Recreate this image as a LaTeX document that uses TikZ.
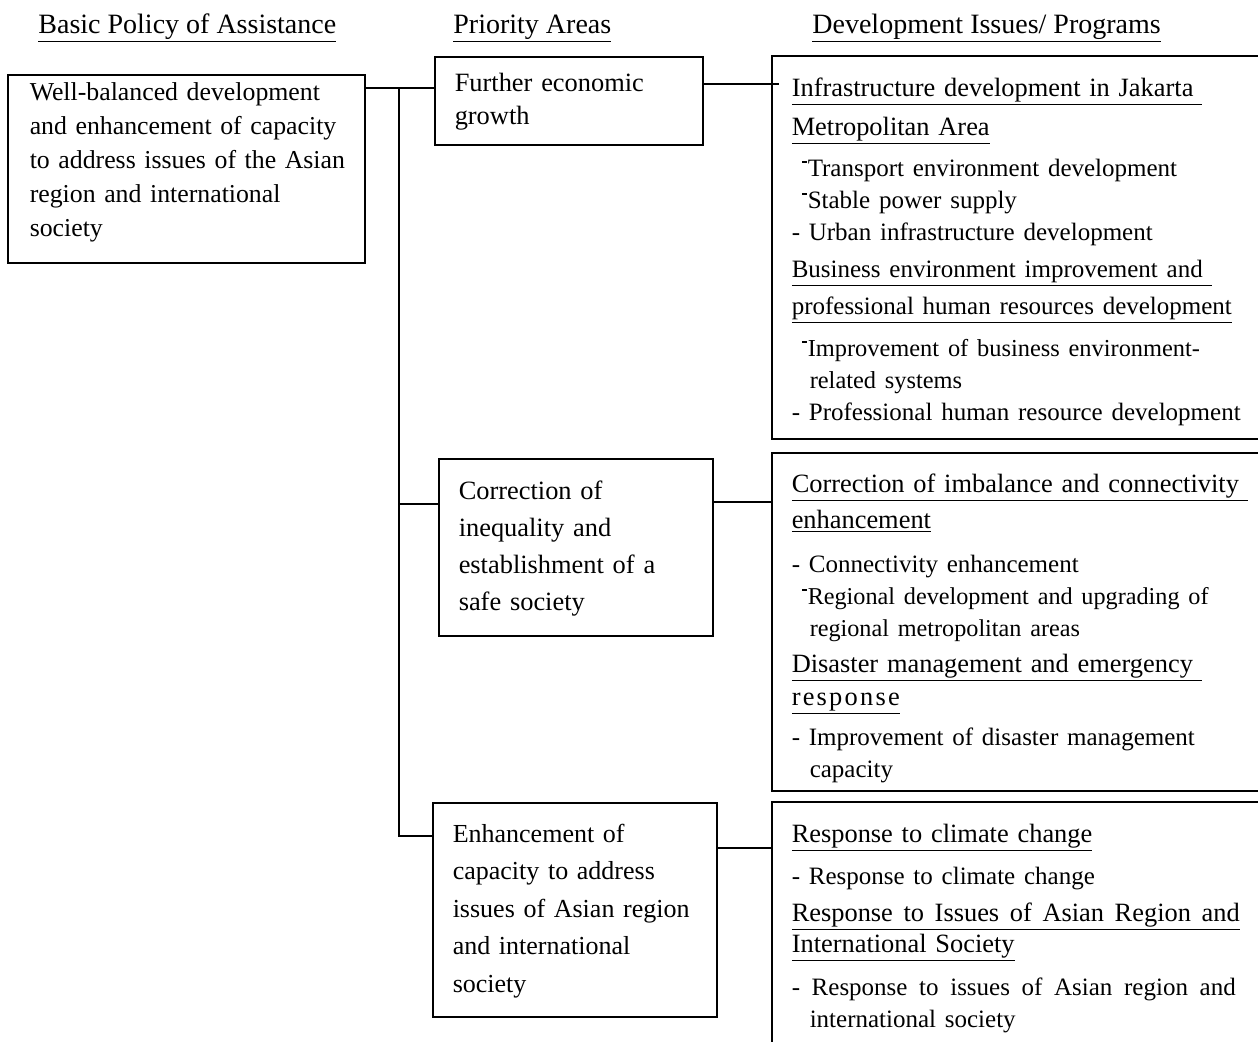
\documentclass[tikz,border=0pt]{standalone}
\usepackage{fontspec}
\setmainfont{Liberation Serif}
\usetikzlibrary{positioning}

% small raised dash used in some items
\newcommand\tickdash{\makebox[8pt][l]{\hspace{5.3pt}\rule[6.6pt]{2.1pt}{0.9pt}}}
% item lines are set a bit smaller than the underlined titles
\newcommand\itm[2][12.5]{{\fontsize{#1}{16}\selectfont #2}}

\begin{document}
\begin{tikzpicture}[x=0.5pt, y=-0.5pt,
    box/.style={draw, line width=0.65pt, inner sep=0pt},
    txt/.style={anchor=base west, align=left, inner sep=0pt, text width=#1},
    head/.style={anchor=base west, inner sep=0pt, font=\fontsize{14}{16}\selectfont},
    link/.style={line width=1pt}]
    \useasboundingbox (0,0) rectangle (1258,1041);
    \clip (0,0) rectangle (1258,1041);

    % column headings
    \node[head] (hpolicy) at (38,33) {\underline{Basic Policy of Assistance}};
    \node[head] (hareas) at (453,33) {\underline{Priority Areas}};
    \node[head] (hissues) at (812,33) {\underline{Development Issues/ Programs}};

    % boxes
    \node[box, minimum width=178.5pt, minimum height=94pt] (policy) at (186.5,169) {};
    \node[box, minimum width=134pt, minimum height=44pt] (growth) at (569,101) {};
    \node[box, minimum width=137pt, minimum height=88.5pt] (safe) at (576,547.5) {};
    \node[box, minimum width=142pt, minimum height=107pt] (capac) at (575,910) {};
    \node[box, minimum width=264pt, minimum height=191.5pt] (prog1) at (1036,247.5) {};
    \node[box, minimum width=264pt, minimum height=169pt] (prog2) at (1036,622) {};
    \node[box, minimum width=264pt, minimum height=139pt] (prog3) at (1036,941) {};

    % texts in the boxes
    \node[txt=165pt, font=\fontsize{12.9}{17}\selectfont] (policy-t) at ([shift={(22,26)}]policy.north west)
    {Well-balanced development\\ and enhancement of capacity\\ to address issues of the Asian\\ region and international\\ society};
    \node[txt=120pt, font=\fontsize{13.2}{16.5}\selectfont] (growth-t) at ([shift={(20,35)}]growth.north west)
    {Further economic\\ growth};
    \node[txt=120pt, font=\fontsize{13.2}{18.5}\selectfont] (safe-t) at ([shift={(20,41)}]safe.north west)
    {Correction of\\ inequality and\\ establishment of a\\ safe society};
    \node[txt=125pt, font=\fontsize{13}{18.75}\selectfont] (capac-t) at ([shift={(20,40)}]capac.north west)
    {Enhancement of\\ capacity to address\\ issues of Asian region\\ and international\\ society};

    \node[txt=240pt, font=\fontsize{13.2}{16}\selectfont] (prog1-t) at ([shift={(20,41)}]prog1.north west)
    {\underline{Infrastructure development in Jakarta\ }\\[3.5pt]
     \underline{Metropolitan Area}\\[4.5pt]
     \itm{\tickdash Transport environment development}\\
     \itm{\tickdash Stable power supply}\\
     \itm{- Urban infrastructure development}\\[2.5pt]
     \itm{\underline{Business environment improvement and\ }}\\[2.5pt]
     \itm{\underline{professional human resources development}}\\[5pt]
     \itm[12.2]{\tickdash Improvement of business environment-}\\
     \itm[12.2]{\hspace*{9pt}related systems}\\
     \itm{- Professional human resource development}};
    \node[txt=240pt, font=\fontsize{13.2}{16}\selectfont] (prog2-t) at ([shift={(20,40)}]prog2.north west)
    {\underline{Correction of imbalance and connectivity\ }\\[2pt]
     \underline{enhancement}\\[6pt]
     \itm{- Connectivity enhancement}\\
     \itm[12.1]{\tickdash Regional development and upgrading of}\\
     \itm[12.1]{\hspace*{9pt}regional metropolitan areas}\\[2pt]
     \underline{Disaster management and emergency\ }\\[0.5pt]
     \underline{\makebox[54pt][l]{r\hfill e\hfill s\hfill p\hfill o\hfill n\hfill s\hfill e}}\\[4pt]
     \itm{- Improvement of disaster management}\\
     \itm{\hspace*{9pt}capacity}};
    \node[txt=240pt, font=\fontsize{13.2}{16}\selectfont] (prog3-t) at ([shift={(20,41)}]prog3.north west)
    {\underline{Response to climate change}\\[5pt]
     \itm{- Response to climate change}\\[2.5pt]
     \underline{\makebox[224pt][l]{Response\hfill to\hfill Issues\hfill of\hfill Asian\hfill Region\hfill and}}\\[-0.5pt]
     \underline{International Society}\\[5.5pt]
     \itm{\makebox[222pt][l]{-\hfill Response\hfill to\hfill issues\hfill of\hfill Asian\hfill region\hfill and}}\\
     \itm{\hspace*{9pt}international society}};

    % connectors
    \coordinate (j1) at (399,88);
    \coordinate (j2) at (399,504);
    \coordinate (j3) at (399,836);
    \coordinate (k1) at (740,84);
    \coordinate (k2) at (740,502);
    \coordinate (k3) at (740,848);
    \draw[link] (policy.east |- j1) -- (growth.west |- j1);
    \draw[link] (j1) -- (j3) -- (capac.west |- j3);
    \draw[link] (j2) -- (safe.west |- j2);
    \draw[link] (growth.east |- k1) -- ([xshift=4]prog1.west |- k1);
    \draw[link] (safe.east |- k2) -- (prog2.west |- k2);
    \draw[link] (capac.east |- k3) -- (prog3.west |- k3);
\end{tikzpicture}
\end{document}
